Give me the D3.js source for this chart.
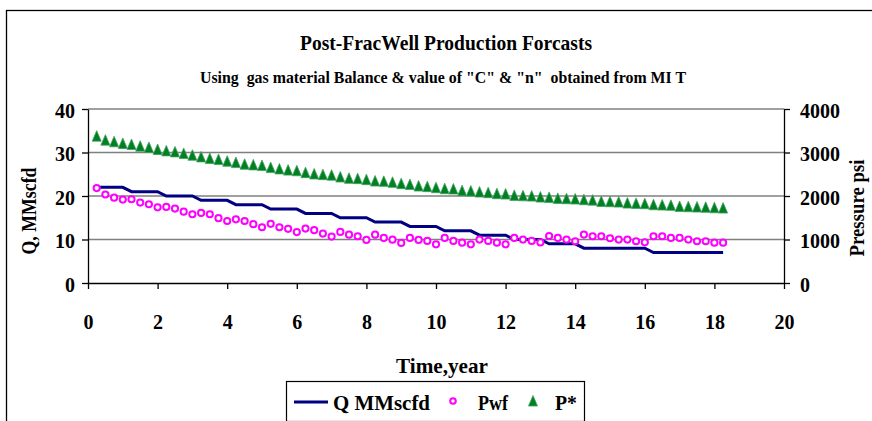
<!DOCTYPE html>
<html>
<head>
<meta charset="utf-8">
<script src="https://cdn.jsdelivr.net/npm/d3@7/dist/d3.min.js"></script>
<style>
  html, body { margin: 0; padding: 0; background: #fff; }
  svg { display: block; }
  text { font-family: "Liberation Serif", "Times New Roman", serif; font-weight: bold; fill: #000; }
</style>
</head>
<body>
<svg id="chart" width="872" height="421"></svg>
<script>
// Quarterly forecast time steps (years)
const years = [0.25,0.5,0.75,1,1.25,1.5,1.75,2,2.25,2.5,2.75,3,3.25,3.5,3.75,4,
  4.25,4.5,4.75,5,5.25,5.5,5.75,6,6.25,6.5,6.75,7,7.25,7.5,7.75,8,
  8.25,8.5,8.75,9,9.25,9.5,9.75,10,10.25,10.5,10.75,11,11.25,11.5,11.75,12,
  12.25,12.5,12.75,13,13.25,13.5,13.75,14,14.25,14.5,14.75,15,15.25,15.5,15.75,16,
  16.25,16.5,16.75,17,17.25,17.5,17.75,18,18.25];

// Gas rate, MMscfd (left axis)
const qMMscfd = [22,22,22,22,21,21,21,21,20,20,20,20,19,19,19,19,
  18,18,18,18,17,17,17,17,16,16,16,16,15,15,15,15,
  14,14,14,14,13,13,13,13,12,12,12,12,11,11,11,11,
  10,10,10,10,9,9,9,9,8,8,8,8,8,8,8,8,
  7,7,7,7,7,7,7,7,7];

// Flowing bottom-hole pressure, psi (right axis)
const pwf = [2183,2035,1961,1918,1925,1848,1810,1740,1748,1710,1640,1580,1610,1580,1490,1425,
  1463,1425,1352,1282,1360,1282,1245,1170,1252,1214,1137,1067,1174,1110,1075,991,
  1110,1037,995,921,1037,991,967,889,1037,967,928,889,998,967,928,889,
  1037,998,967,932,1080,1037,998,960,1113,1075,1075,1029,998,998,960,936,
  1075,1075,1037,1037,998,960,960,928,928];

// Average reservoir pressure P*, psi (right axis)
const pStar = [3376,3284,3245,3207,3184,3145,3115,3069,3037,3014,2976,2937,2898,2861,2838,2799,
  2768,2730,2715,2699,2653,2622,2595,2580,2537,2506,2491,2478,2437,2406,2399,2376,
  2344,2337,2314,2284,2264,2229,2215,2191,2168,2160,2122,2114,2091,2076,2053,2045,
  2014,2005,1998,1975,1968,1945,1937,1930,1914,1905,1875,1868,1860,1837,1830,1822,
  1799,1792,1785,1760,1753,1746,1740,1729,1722];

const xTicks = [0,2,4,6,8,10,12,14,16,18,20];
const leftTicks = [0,10,20,30,40];
const rightTicks = [0,1000,2000,3000,4000];

const svg = d3.select("#chart");

const plot = { left: 88, right: 784, top: 109, bottom: 283 };
const x = d3.scaleLinear().domain([0, 20]).range([plot.left, plot.right]);
const yL = d3.scaleLinear().domain([0, 40]).range([plot.bottom, plot.top]);
const yR = d3.scaleLinear().domain([0, 4000]).range([plot.bottom, plot.top]);

// Chart frame
svg.append("rect")
  .attr("x", 6.5).attr("y", 10.5).attr("width", 900).attr("height", 500)
  .attr("fill", "none").attr("stroke", "#000").attr("stroke-width", 1.3);

// Titles
svg.append("text").attr("x", 446).attr("y", 50).attr("text-anchor", "middle")
  .attr("font-size", 22).attr("textLength", 292).attr("lengthAdjust", "spacingAndGlyphs")
  .text("Post-FracWell Production Forcasts");
svg.append("text").attr("x", 443).attr("y", 83).attr("text-anchor", "middle")
  .attr("font-size", 17).attr("textLength", 486).attr("lengthAdjust", "spacingAndGlyphs")
  .attr("xml:space", "preserve")
  .text('Using  gas material Balance & value of "C" & "n"  obtained from MI T');

// Horizontal gridlines
svg.append("g").selectAll("line").data(leftTicks.filter(d => d > 0)).join("line")
  .attr("x1", plot.left).attr("x2", plot.right)
  .attr("y1", d => yL(d)).attr("y2", d => yL(d))
  .attr("stroke", "#7f7f7f").attr("stroke-width", 1.6);

// Axes
const fmt = d => String(d);
const gLeft = svg.append("g").attr("transform", `translate(${plot.left},0)`)
  .call(d3.axisLeft(yL).tickValues(leftTicks).tickSize(6).tickSizeOuter(0).tickFormat(fmt));
const gRight = svg.append("g").attr("transform", `translate(${plot.right},0)`)
  .call(d3.axisRight(yR).tickValues(rightTicks).tickSize(6).tickSizeOuter(0).tickFormat(fmt));
const gBottom = svg.append("g").attr("transform", `translate(0,${plot.bottom})`)
  .call(d3.axisBottom(x).tickValues(xTicks).tickSize(6).tickSizeOuter(0).tickFormat(fmt));

[gLeft, gRight, gBottom].forEach(g => {
  g.selectAll("path.domain").attr("stroke", "#000").attr("stroke-width", 1.3);
  g.selectAll(".tick line").attr("stroke", "#000").attr("stroke-width", 1.3);
  g.selectAll(".tick text").attr("font-family", null).attr("font-size", 22)
    .style("font-family", '"Liberation Serif", "Times New Roman", serif')
    .style("font-weight", "bold").attr("fill", "#000");
});
gLeft.selectAll(".tick text").attr("x", -13).attr("dy", null).attr("y", 8)
  .attr("textLength", d => String(d).length * 10).attr("lengthAdjust", "spacingAndGlyphs");
gRight.selectAll(".tick text").attr("x", 16).attr("dy", null).attr("y", 8)
  .attr("textLength", d => String(d).length * 10).attr("lengthAdjust", "spacingAndGlyphs");
gBottom.selectAll(".tick text").attr("dy", null).attr("y", 46)
  .attr("textLength", d => String(d).length * 10).attr("lengthAdjust", "spacingAndGlyphs");

// Axis titles
svg.append("text").attr("transform", "translate(36,211) rotate(-90)")
  .attr("text-anchor", "middle").attr("font-size", 22)
  .attr("textLength", 87).attr("lengthAdjust", "spacingAndGlyphs").text("Q, MMscfd");
svg.append("text").attr("transform", "translate(864,208) rotate(-90)")
  .attr("text-anchor", "middle").attr("font-size", 22)
  .attr("textLength", 97).attr("lengthAdjust", "spacingAndGlyphs").text("Pressure psi");
svg.append("text").attr("x", 442).attr("y", 373).attr("text-anchor", "middle")
  .attr("font-size", 21).attr("textLength", 92).attr("lengthAdjust", "spacingAndGlyphs")
  .text("Time,year");

// Series
const rows = years.map((t, i) => ({ t, q: qMMscfd[i], pwf: pwf[i], ps: pStar[i] }));

svg.append("path").datum(rows)
  .attr("fill", "none").attr("stroke", "#000080").attr("stroke-width", 3)
  .attr("d", d3.line().x(d => x(d.t)).y(d => yL(d.q)));

svg.append("g").selectAll("circle").data(rows).join("circle")
  .attr("cx", d => x(d.t)).attr("cy", d => yR(d.pwf)).attr("r", 3.1)
  .attr("fill", "#fff").attr("stroke", "#ff00ff").attr("stroke-width", 2);

const tri = "M0,-5.5L4.5,5L-4.5,5Z";
svg.append("g").selectAll("path").data(rows).join("path")
  .attr("transform", d => `translate(${x(d.t)},${yR(d.ps)})`)
  .attr("d", tri).attr("fill", "#008020").attr("stroke", "#3f9f5f").attr("stroke-width", 0.8);

// Legend
const lg = svg.append("g");
lg.append("rect").attr("x", 286.5).attr("y", 381.5).attr("width", 298).attr("height", 40)
  .attr("fill", "#fff").attr("stroke", "#000").attr("stroke-width", 1.2);
lg.append("line").attr("x1", 294).attr("x2", 328).attr("y1", 402).attr("y2", 402)
  .attr("stroke", "#000080").attr("stroke-width", 3);
lg.append("text").attr("x", 333).attr("y", 410).attr("font-size", 22)
  .attr("textLength", 97).attr("lengthAdjust", "spacingAndGlyphs").text("Q MMscfd");
lg.append("circle").attr("cx", 453).attr("cy", 401).attr("r", 2.8)
  .attr("fill", "#fff").attr("stroke", "#ff00ff").attr("stroke-width", 2);
lg.append("text").attr("x", 478).attr("y", 410).attr("font-size", 22)
  .attr("textLength", 30).attr("lengthAdjust", "spacingAndGlyphs").text("Pwf");
lg.append("path").attr("transform", "translate(533,401)").attr("d", tri)
  .attr("fill", "#008020").attr("stroke", "#3f9f5f").attr("stroke-width", 0.8);
lg.append("text").attr("x", 555).attr("y", 410).attr("font-size", 22)
  .attr("textLength", 22).attr("lengthAdjust", "spacingAndGlyphs").text("P*");
</script>
</body>
</html>
